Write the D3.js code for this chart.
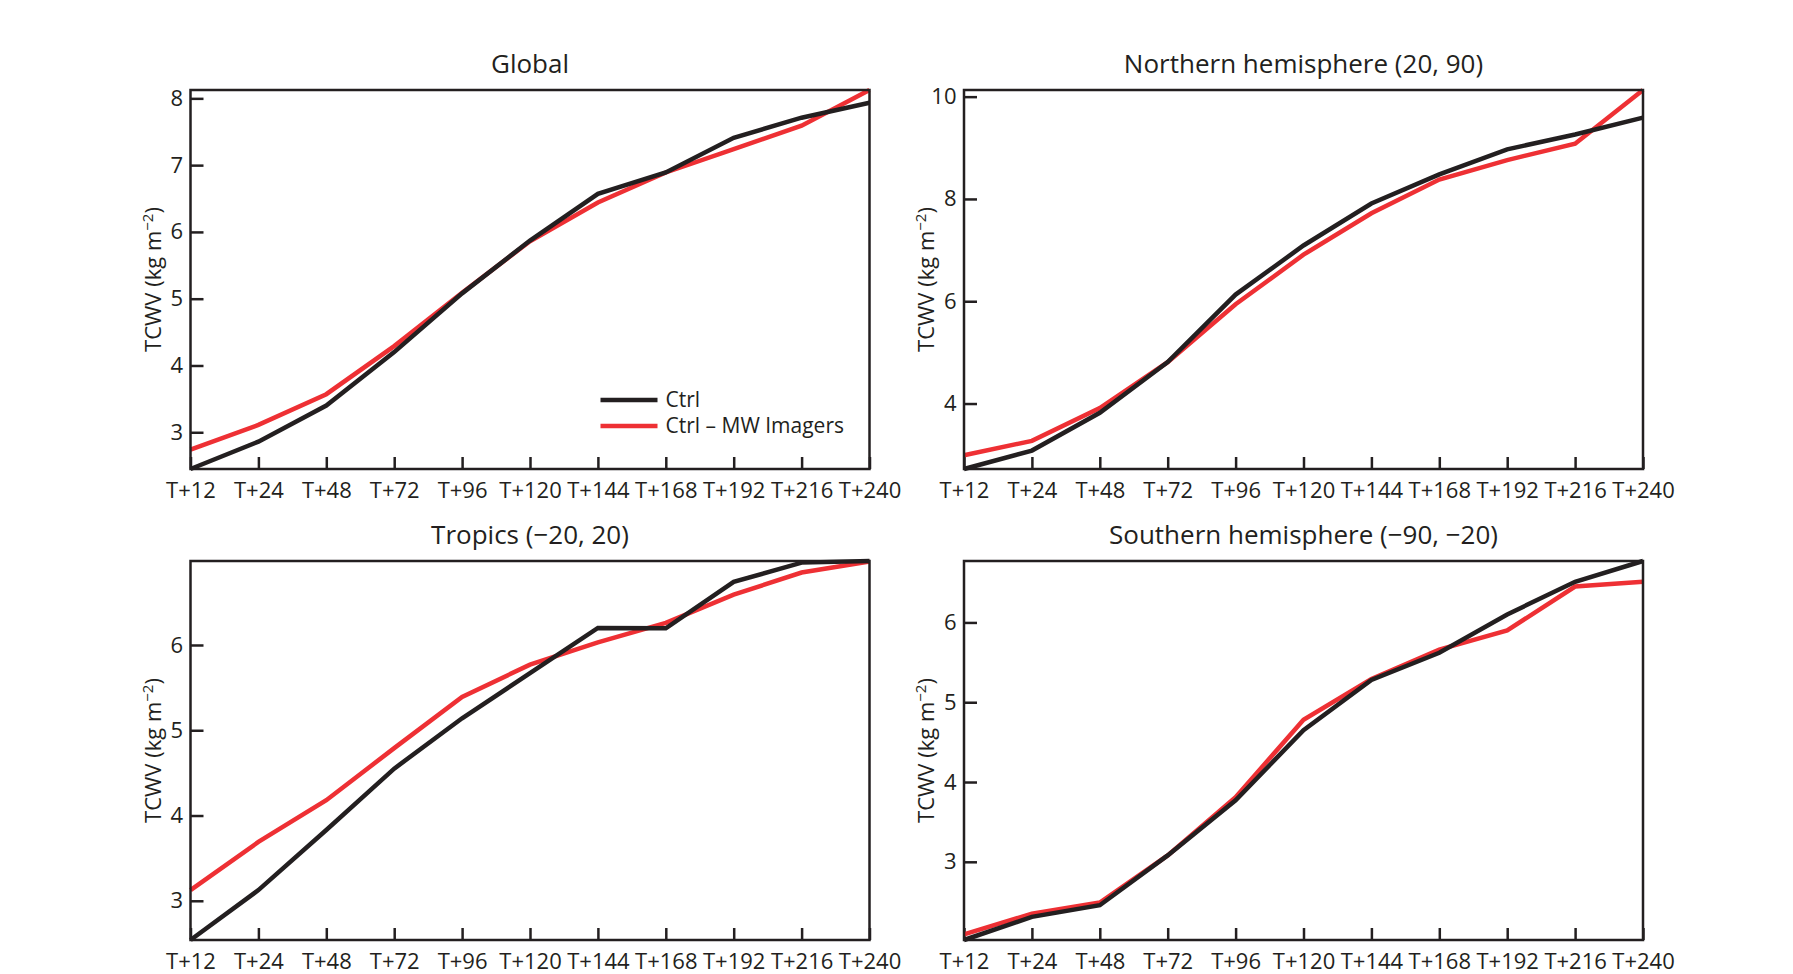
<!DOCTYPE html>
<html>
<head>
<meta charset="utf-8">
<script src="https://cdn.jsdelivr.net/npm/d3@7"></script>
<style>
  body { margin: 0; background: #fff; }
  svg text { font-family: "Open Sans", sans-serif; fill: #231f20; }
</style>
</head>
<body>
<script>
const WIDTH = 1793;
const HEIGHT = 974;
const PLOT_W = 679;
const PLOT_H = 379;
const INK = '#231f20';
const RED = '#ee3034';

// forecast lead times
var leadTimes = ['T+12','T+24','T+48','T+72','T+96','T+120','T+144','T+168','T+192','T+216','T+240'];

// TCWV values (kg m-2)
var globalCtrl = [2.45, 2.86, 3.40, 4.20, 5.08, 5.87, 6.57, 6.89, 7.41, 7.71, 7.935];
var globalMw   = [2.74, 3.11, 3.57, 4.29, 5.09, 5.86, 6.44, 6.89, 7.24, 7.59, 8.125];
var nhCtrl = [2.72, 3.08, 3.82, 4.81, 6.13, 7.09, 7.91, 8.48, 8.97, 9.26, 9.59];
var nhMw   = [2.99, 3.27, 3.91, 4.81, 5.94, 6.91, 7.72, 8.38, 8.76, 9.08, 10.13];
var tropCtrl = [2.54, 3.125, 3.83, 4.55, 5.14, 5.67, 6.20, 6.195, 6.74, 6.966, 6.985];
var tropMw   = [3.125, 3.69, 4.18, 4.79, 5.39, 5.77, 6.03, 6.26, 6.59, 6.85, 6.98];
var shCtrl = [2.02, 2.31, 2.456, 3.08, 3.77, 4.65, 5.28, 5.62, 6.10, 6.51, 6.77];
var shMw   = [2.09, 2.35, 2.49, 3.08, 3.81, 4.78, 5.29, 5.66, 5.90, 6.45, 6.51];

var globalTicks = [3, 4, 5, 6, 7, 8];
var nhTicks = [4, 6, 8, 10];
var tropTicks = [3, 4, 5, 6];
var shTicks = [3, 4, 5, 6];

var seriesNames = ['Ctrl', 'Ctrl \u2013 MW Imagers'];

var svg = d3.select('body').append('svg')
    .attr('width', WIDTH)
    .attr('height', HEIGHT);

var loadGraph = function (left, top, title, ctrl, mw, ticks, showLegend) {
    var g = svg.append('g')
        .attr('transform', 'translate(' + left + ',' + top + ')');

    var xScale = d3.scalePoint()
        .domain(leadTimes)
        .range([0, PLOT_W]);
    var yScale = d3.scaleLinear()
        .domain(d3.extent(ctrl.concat(mw)))
        .range([PLOT_H, 0]);

    var xAxis = d3.axisBottom(xScale)
        .tickSizeInner(-12)
        .tickSizeOuter(0)
        .tickPadding(13.5);
    var yAxis = d3.axisLeft(yScale)
        .tickValues(ticks)
        .tickFormat(d3.format('d'))
        .tickSizeInner(-13)
        .tickSizeOuter(0)
        .tickPadding(7.5);

    var xg = g.append('g')
        .attr('transform', 'translate(0,' + PLOT_H + ')')
        .call(xAxis);
    var yg = g.append('g').call(yAxis);

    [xg, yg].forEach(function (a) {
        a.select('.domain').remove();
        a.selectAll('line').attr('stroke', INK).attr('stroke-width', 2.5);
        a.selectAll('text')
            .attr('font-size', 22)
            .attr('font-family', '"Open Sans", sans-serif')
            .attr('fill', INK);
    });

    g.append('text')
        .attr('x', PLOT_W / 2)
        .attr('y', -17)
        .attr('text-anchor', 'middle')
        .attr('font-size', 26)
        .text(title);

    var yl = g.append('text')
        .attr('transform', 'translate(-30,' + (PLOT_H / 2) + ') rotate(-90)')
        .attr('text-anchor', 'middle')
        .attr('font-size', 22);
    yl.append('tspan').text('TCWV (kg m');
    yl.append('tspan').attr('dy', -8).attr('font-size', 15).text('\u22122');
    yl.append('tspan').attr('dy', 8).text(')');

    var line = d3.line()
        .x(function (d, i) { return xScale(leadTimes[i]); })
        .y(function (d) { return yScale(d); });

    g.append('path')
        .attr('d', line(mw))
        .attr('fill', 'none')
        .attr('stroke', RED)
        .attr('stroke-width', 4.5);
    g.append('path')
        .attr('d', line(ctrl))
        .attr('fill', 'none')
        .attr('stroke', INK)
        .attr('stroke-width', 4.5);

    g.append('rect')
        .attr('width', PLOT_W)
        .attr('height', PLOT_H)
        .attr('fill', 'none')
        .attr('stroke', INK)
        .attr('stroke-width', 2.5);

    if (showLegend) {
        var lg = g.append('g')
            .attr('transform', 'translate(410,310)');
        [INK, RED].forEach(function (c, i) {
            lg.append('line')
                .attr('x1', 0).attr('x2', 57)
                .attr('y1', i * 26).attr('y2', i * 26)
                .attr('stroke', c)
                .attr('stroke-width', 4.5);
            lg.append('text')
                .attr('x', 65)
                .attr('y', i * 26 + 7)
                .attr('font-size', 21)
                .text(seriesNames[i]);
        });
    }
};

loadGraph(190.5, 90, 'Global', globalCtrl, globalMw, globalTicks, true);
loadGraph(964, 90, 'Northern hemisphere (20, 90)', nhCtrl, nhMw, nhTicks, false);
loadGraph(190.5, 561, 'Tropics (\u221220, 20)', tropCtrl, tropMw, tropTicks, false);
loadGraph(964, 561, 'Southern hemisphere (\u221290, \u221220)', shCtrl, shMw, shTicks, false);
</script>
</body>
</html>
